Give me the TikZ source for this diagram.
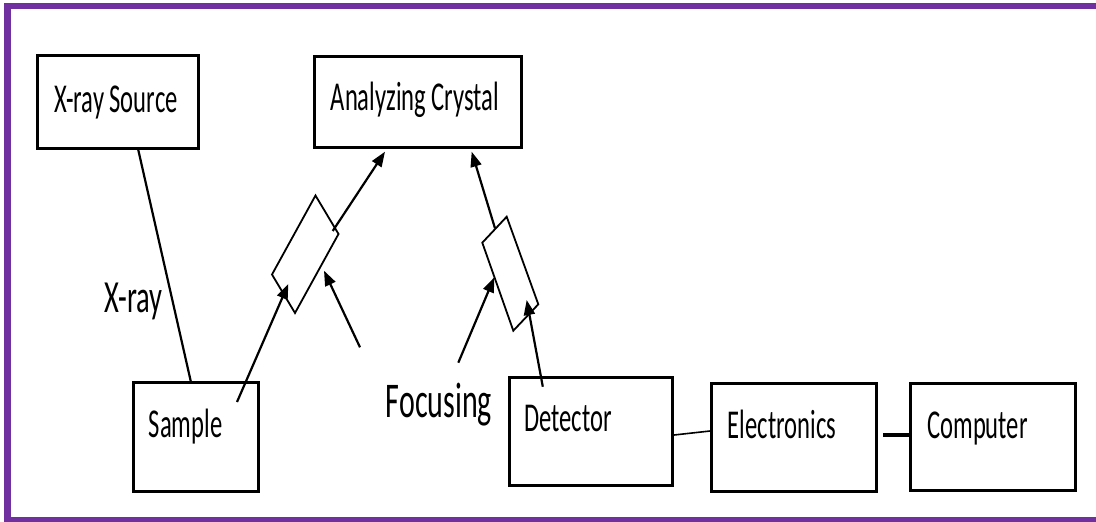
\documentclass[tikz,border=0pt]{standalone}
\usepackage{fontspec}
\setmainfont{Carlito}
\usetikzlibrary{arrows.meta}
\definecolor{framepurple}{RGB}{112,48,160}
\tikzset{
  box/.style={draw, line width=3.2pt, inner sep=0pt, fill=white},
  lbl/.style={anchor=base, inner sep=0pt, font=\fontsize{41}{41}\selectfont},
  conn/.style={line width=2.2pt},
  arr/.style={line width=2.2pt, -{Triangle[length=15pt,width=11pt]}},
  lens/.style={line width=1.8pt, line join=miter, fill=white},
}
\newcommand{\nar}[1]{\scalebox{0.6}[1]{#1}}
\begin{document}
\begin{tikzpicture}[x=1pt,y=-1pt]
\useasboundingbox (0,0) rectangle (1096,522);
\fill[white] (0,0) rectangle (1096,522);
% frame
\draw[framepurple, line width=6.5pt] (7.5,6) rectangle (1110,520.5);

% boxes
\node[box, minimum width=161pt, minimum height=93pt] (src) at (118,102) {};
\node[box, minimum width=207pt, minimum height=91pt] (cry) at (418,102) {};
\node[box, minimum width=125pt, minimum height=109pt] (sam) at (196,437) {};
\node[box, minimum width=163pt, minimum height=108pt] (det) at (591,431.5) {};
\node[box, minimum width=165pt, minimum height=108pt] (ele) at (794,437.5) {};
\node[box, minimum width=165pt, minimum height=107pt] (com) at (993,437) {};

% labels
\node[lbl] (srct) at (116,112) {\nar{X-ray Source}};
\node[lbl] (cryt) at (415,110) {\nar{Analyzing Crystal}};
\node[lbl] (samt) at (185.5,437) {\nar{Sample}};
\node[lbl] (dett) at (568,431) {\nar{Detector}};
\node[lbl] (elet) at (782,438) {\nar{Electronics}};
\node[lbl] (comt) at (977.5,438) {\nar{Computer}};
\node[lbl, font=\fontsize{50}{50}\selectfont] (foc) at (439,417) {\nar{Focusing}};
\node[lbl, font=\fontsize{46}{46}\selectfont] (xr) at (133.5,312) {\scalebox{0.62}[1]{X-ray}};

% connector points
\coordinate (srcout) at (138.3,150);
\coordinate (samin) at (190.7,381);
\coordinate (s1) at (237,402);
\coordinate (l1in) at (288.3,284);
\coordinate (l1out) at (332.7,231);
\coordinate (c1) at (385,151.7);
\coordinate (f1) at (360,347.3);
\coordinate (l1f) at (324,270.7);
\coordinate (f2) at (458.3,362.7);
\coordinate (l2f) at (494.3,277.3);
\coordinate (d1) at (542.8,386.7);
\coordinate (l2in) at (526.7,300);
\coordinate (l2out) at (495,228.3);
\coordinate (c2) at (471.7,151.7);
\coordinate (deto) at (674,435);
\coordinate (elei) at (710,431);
\coordinate (eleo) at (883,435);
\coordinate (comi) at (909,435);

% X-ray line
\draw[conn] (srcout) -- (samin);

% lenses
\coordinate (L1t) at (315.5,195.5);
\coordinate (L1r) at (338.5,234);
\coordinate (L1b) at (295,313);
\coordinate (L1l) at (272,274.5);
\coordinate (L2t) at (506.7,216.7);
\coordinate (L2r) at (538.3,304.3);
\coordinate (L2b) at (513.3,330.7);
\coordinate (L2l) at (482.3,242.7);
\draw[lens] (L1t) -- (L1r) -- (L1b) -- (L1l) -- cycle;
\draw[lens] (L2t) -- (L2r) -- (L2b) -- (L2l) -- cycle;

% arrows
\draw[arr] (s1) -- (l1in);
\draw[arr] (l1out) -- (c1);
\draw[arr] (f1) -- (l1f);
\draw[arr] (f2) -- (l2f);
\draw[arr] (d1) -- (l2in);
\draw[arr] (l2out) -- (c2);

% chain
\draw[line width=1.6pt] (deto) -- (elei);
\draw[line width=3.3pt] (eleo) -- (comi);
\end{tikzpicture}
\end{document}
